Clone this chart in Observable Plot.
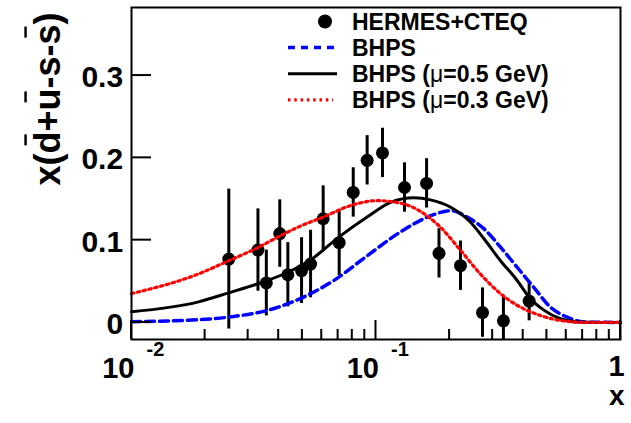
<!DOCTYPE html>
<html><head><meta charset="utf-8">
<script src="https://cdn.jsdelivr.net/npm/d3@7"></script>
<script src="https://cdn.jsdelivr.net/npm/@observablehq/plot@0.6"></script>
<style>
  html,body{margin:0;padding:0;background:#fff;}
  svg{font-family:"Liberation Sans",Arial,Helvetica,sans-serif;font-weight:bold;}
</style>
</head><body><div id="chart"></div>
<script>
// ---- data ----
const dataX   = [0.025, 0.0329, 0.0356, 0.0404, 0.0436, 0.0496, 0.054, 0.0608, 0.0707, 0.0807, 0.092, 0.1063, 0.1308, 0.161, 0.181, 0.2216, 0.2727, 0.332, 0.423];
const dataY   = [0.077, 0.088, 0.048, 0.108, 0.058, 0.063, 0.071, 0.126, 0.097, 0.158, 0.197, 0.206, 0.164, 0.169, 0.084, 0.069, 0.012, 0.002, 0.026];
const dataErr = [0.085, 0.050, 0.040, 0.041, 0.039, 0.040, 0.041, 0.040, 0.040, 0.030, 0.030, 0.030, 0.030, 0.030, 0.030, 0.030, 0.030, 0.030, 0.024];

const bhpsX = [0.01, 0.0188, 0.0262, 0.0359, 0.049, 0.0672, 0.092, 0.126, 0.172, 0.202, 0.236, 0.276, 0.323, 0.378, 0.441, 0.517, 0.605, 0.708, 1];
const bhpsY = [0.001, 0.0033, 0.0073, 0.0146, 0.029, 0.051, 0.081, 0.110, 0.131, 0.136, 0.128, 0.114, 0.0915, 0.067, 0.043, 0.0186, 0.0065, 0.0005, 0];

const mu05X = [0.01, 0.0188, 0.025, 0.0329, 0.0436, 0.054, 0.0707, 0.092, 0.1147, 0.143, 0.167, 0.202, 0.243, 0.276, 0.323, 0.378, 0.422, 0.486, 0.568, 0.665, 0.8, 1];
const mu05Y = [0.013, 0.025, 0.036, 0.047, 0.061, 0.076, 0.104, 0.128, 0.146, 0.1515, 0.149, 0.140, 0.122, 0.102, 0.075, 0.051, 0.031, 0.015, 0.0045, 0.0005, 0, 0];

const mu03X = [0.01, 0.0188, 0.025, 0.0329, 0.0404, 0.049, 0.0608, 0.0787, 0.101, 0.126, 0.15, 0.183, 0.222, 0.267, 0.323, 0.39, 0.47, 0.568, 0.73, 1];
const mu03Y = [0.035, 0.059, 0.075, 0.091, 0.105, 0.117, 0.128, 0.142, 0.148, 0.145, 0.136, 0.116, 0.0875, 0.059, 0.035, 0.0186, 0.0085, 0.0024, 0, 0];

const xMajorTicks = [0.01, 0.1, 1];
const xTickBase   = ["10", "10", "1"];
const xTickExp    = ["-2", "-1", ""];
const xMinorTicks = [0.02,0.03,0.04,0.05,0.06,0.07,0.08,0.09,0.2,0.3,0.4,0.5,0.6,0.7,0.8,0.9];
const yTicks      = [0, 0.1, 0.2, 0.3];
const yTickLabels = ["0", "0.1", "0.2", "0.3"];
const yTitle = "x(d+u-s-s)";
const yTitleBarred = [2, 4, 8];
const xTitle = "x";
const legendLabels = ["HERMES+CTEQ", "BHPS", "BHPS (μ=0.5 GeV)", "BHPS (μ=0.3 GeV)"];

// ---- layout ----
const W = 631, H = 423;
const M = {top: 7, right: 11, bottom: 84, left: 131};
const frameW = W - M.left - M.right;
const frameH = H - M.top - M.bottom;
const tickLen = {xMajor: 19, xMinor: 10, y: 20};

const points = dataX.map((x, i) => ({x, y: dataY[i], err: dataErr[i]}));
const rows = (xs, ys) => xs.map((x, i) => ({x, y: ys[i]}));
const xLabelRows = xMajorTicks.map((v, i) => ({v, base: xTickBase[i], exp: xTickExp[i]}));

const chart = Plot.plot({
  width: W, height: H,
  marginTop: M.top, marginRight: M.right, marginBottom: M.bottom, marginLeft: M.left,
  style: {background: "white", fontFamily: "'Liberation Sans', Arial, sans-serif", fontWeight: "bold", overflow: "visible"},
  x: {type: "log", domain: [0.01, 1], axis: null},
  y: {domain: [-0.0207, 0.3827], axis: null},
  marks: [
    Plot.ruleX(points, {x: "x", y1: d => d.y - d.err, y2: d => d.y + d.err, stroke: "black", strokeWidth: 3, clip: true}),
    Plot.dot(points, {x: "x", y: "y", r: 6.5, fill: "black"}),
    Plot.line(rows(bhpsX, bhpsY), {x: "x", y: "y", stroke: "#0000ff", strokeWidth: 3.5, strokeDasharray: "9,5", curve: "monotone-x"}),
    Plot.line(rows(mu05X, mu05Y), {x: "x", y: "y", stroke: "black", strokeWidth: 3, curve: "monotone-x"}),
    Plot.line(rows(mu03X, mu03Y), {x: "x", y: "y", stroke: "#ff0000", strokeWidth: 3.2, strokeDasharray: "2.5,3.5", curve: "monotone-x"}),
    Plot.frame({stroke: "black", strokeWidth: 2}),
    Plot.text(yTicks, {y: d => d, text: (d, i) => yTickLabels[i], frameAnchor: "left", textAnchor: "end", dx: -8.4, dy: 2, fontSize: 30, fontWeight: "bold", fill: "black"}),
    Plot.text(xLabelRows.filter(d => d.exp), {x: "v", text: "base", frameAnchor: "bottom", textAnchor: "end", dx: 3, dy: 38.4, fontSize: 29, fontWeight: "bold", fill: "black"}),
    Plot.text(xLabelRows.filter(d => d.exp), {x: "v", text: "exp", frameAnchor: "bottom", textAnchor: "start", dx: 15, dy: 16.3, fontSize: 20, fontWeight: "bold", fill: "black"}),
    Plot.text(xLabelRows.filter(d => !d.exp), {x: "v", text: "base", frameAnchor: "bottom", textAnchor: "start", dx: -12, dy: 36.7, fontSize: 29, fontWeight: "bold", fill: "black"}),
    Plot.text([xTitle], {text: d => d, frameAnchor: "bottom-right", textAnchor: "end", dx: 4, dy: 65.4, fontSize: 28, fontWeight: "bold", fill: "black"}),
    Plot.text([yTitle], {text: d => d, frameAnchor: "top-left", rotate: -90, textAnchor: "end", dx: -97.5, dy: 5, fontSize: 36, fontWeight: "bold", fill: "black"})
  ]
});
document.getElementById("chart").append(chart);

const svg = d3.select(chart.tagName.toLowerCase() === "svg" ? chart : chart.querySelector("svg"));
const sx = chart.scale("x"), sy = chart.scale("y");

// inward axis ticks, positioned with the plot's own scales
const tg = svg.append("g").attr("stroke", "black").attr("stroke-width", 2);
const yBottom = H - M.bottom, xLeft = M.left;
xMinorTicks.forEach(v => { const px = sx.apply(v);
  tg.append("line").attr("x1", px).attr("x2", px).attr("y1", yBottom - tickLen.xMinor).attr("y2", yBottom); });
xMajorTicks.forEach(v => { const px = sx.apply(v);
  tg.append("line").attr("x1", px).attr("x2", px).attr("y1", yBottom - tickLen.xMajor).attr("y2", yBottom); });
yTicks.forEach(v => { const py = sy.apply(v);
  tg.append("line").attr("x1", xLeft).attr("x2", xLeft + tickLen.y).attr("y1", py).attr("y2", py); });

// overbars on the y title
const titleEl = svg.selectAll("text").filter(function () { return this.textContent === yTitle; }).node();
if (titleEl) {
  const tr = titleEl.getAttribute("transform");
  yTitleBarred.forEach(i => {
    const e = titleEl.getExtentOfChar(i);
    const cx = e.x + e.width * 0.62;
    d3.select(titleEl.parentNode).append("line")
      .attr("transform", tr)
      .attr("x1", cx - 5.5).attr("x2", cx + 5.5)
      .attr("y1", e.y - 1).attr("y2", e.y - 1)
      .attr("stroke", "black").attr("stroke-width", 2.5);
  });
}

// legend
const lg = {sampleX1: 288, sampleX2: 336, dotX: 325, textX: 352, rowY: [21.5, 47.6, 73.7, 99.8], fontSize: 23};
const g = svg.append("g").attr("text-anchor", "start");
g.append("circle").attr("cx", lg.dotX).attr("cy", lg.rowY[0]).attr("r", 7).attr("fill", "black");
g.append("line").attr("x1", lg.sampleX1).attr("x2", lg.sampleX2).attr("y1", lg.rowY[1]).attr("y2", lg.rowY[1])
  .attr("stroke", "#0000ff").attr("stroke-width", 3.5).attr("stroke-dasharray", "7,6");
g.append("line").attr("x1", lg.sampleX1).attr("x2", lg.sampleX2 + 1).attr("y1", lg.rowY[2]).attr("y2", lg.rowY[2])
  .attr("stroke", "black").attr("stroke-width", 3);
g.append("line").attr("x1", lg.sampleX1).attr("x2", lg.sampleX2 - 3).attr("y1", lg.rowY[3]).attr("y2", lg.rowY[3])
  .attr("stroke", "#ff0000").attr("stroke-width", 3.2).attr("stroke-dasharray", "2.5,3.8");
legendLabels.forEach((lab, i) => {
  const t = g.append("text").attr("x", lg.textX).attr("y", lg.rowY[i] + 8)
    .attr("text-anchor", "start")
    .attr("font-size", lg.fontSize).attr("font-weight", "bold").attr("fill", "black");
  const k = lab.indexOf("μ");
  if (k < 0) t.text(lab);
  else {
    t.append("tspan").text(lab.slice(0, k));
    t.append("tspan").attr("font-weight", "normal").text("μ");
    t.append("tspan").text(lab.slice(k + 1));
  }
});
</script>
</body></html>
